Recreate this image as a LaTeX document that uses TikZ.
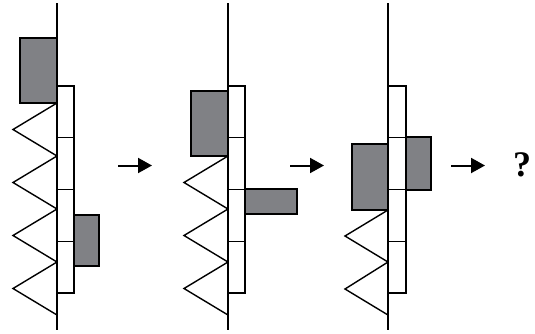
\documentclass[tikz,border=0pt]{standalone}
\usepackage{fontspec}
\setmainfont{Liberation Serif}
\usetikzlibrary{arrows.meta}
\definecolor{weightgray}{RGB}{128,129,133}
\tikzset{
  rail/.style={draw=black, line width=1.6pt},
  cell/.style={draw=black, line width=1.4pt, fill=white},
  weight/.style={draw=black, line width=1.4pt, fill=weightgray},
  spring/.style={draw=black, line width=1.4pt, line join=miter},
  move/.style={-{Triangle[length=14pt,width=15pt]}, line width=2pt}
}

\begin{document}
\begin{tikzpicture}[x=1pt, y=-1pt]
  \useasboundingbox (0,0) rectangle (535,333);

  % panel 1
  \draw[spring] (57,103) \foreach \k in {0,...,3} {
      -- (13,{129.5+53*\k}) -- (57,{156+53*\k}) };
  \foreach \k in {0,...,3}
    \draw[cell] (57,{86+51.75*\k}) rectangle (74,{137.75+51.75*\k});
  \draw[weight] (20,38) rectangle (57,103);
  \draw[weight] (74,215) rectangle (99,266);
  \draw[rail] (57,3) -- (57,330);

  % panel 2
  \draw[spring] (228,156) \foreach \k in {0,...,2} {
      -- (184,{182.5+53*\k}) -- (228,{209+53*\k}) };
  \foreach \k in {0,...,3}
    \draw[cell] (228,{86+51.75*\k}) rectangle (245,{137.75+51.75*\k});
  \draw[weight] (191,91) rectangle (228,156);
  \draw[weight] (245,189) rectangle (297,214);
  \draw[rail] (228,3) -- (228,330);

  % panel 3
  \draw[spring] (388,210) \foreach \k in {0,...,1} {
      -- (345,{236+53*\k}) -- (388,{262+53*\k}) };
  \foreach \k in {0,...,3}
    \draw[cell] (388,{86+51.75*\k}) rectangle (406,{137.75+51.75*\k});
  \draw[weight] (352,144) rectangle (388,210);
  \draw[weight] (406,137) rectangle (431,190);
  \draw[rail] (388,3) -- (388,330);

  % arrows between panels
  \coordinate (m1a) at (118,165.5);
  \coordinate (m1b) at (152,165.5);
  \coordinate (m2a) at (290,165.5);
  \coordinate (m2b) at (324,165.5);
  \coordinate (m3a) at (451,165.5);
  \coordinate (m3b) at (485,165.5);
  \draw[move] (m1a) -- (m1b);
  \draw[move] (m2a) -- (m2b);
  \draw[move] (m3a) -- (m3b);

  \node[font=\fontsize{36}{36}\selectfont\bfseries] (query) at (522,165) {?};
\end{tikzpicture}
\end{document}
